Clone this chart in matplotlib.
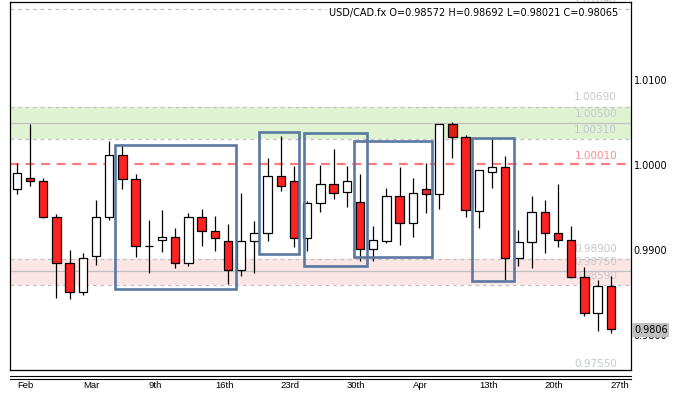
import matplotlib
matplotlib.use("Agg")
import matplotlib.pyplot as plt
from matplotlib.patches import Rectangle
from matplotlib.lines import Line2D
import matplotlib.transforms as mtransforms

# ---------------- data ----------------
opens = [0.99716, 0.99845, 0.99810, 0.99386, 0.98844, 0.98509, 0.98926, 0.99386, 1.00116, 0.99833,
         0.99044, 0.99115, 0.99150, 0.98844, 0.99386, 0.99221, 0.99103, 0.98765, 0.99103, 0.99197,
         0.99869, 0.99810, 0.99138, 0.99551, 0.99774, 0.99684, 0.99562, 0.99009, 0.99103, 0.99633,
         0.99315, 0.99716, 0.99657, 1.00481, 1.00328, 0.99460, 0.99916, 0.99975, 0.98910, 0.99091,
         0.99445, 0.99197, 0.99115, 0.98679, 0.98255, 0.98572]
highs = [1.00022, 1.00485, 0.99845, 0.99425, 0.99001, 0.98962, 0.99590, 1.00284, 1.00246, 0.99896,
         0.99354, 0.99472, 0.99260, 0.99436, 0.99484, 0.99401, 0.99307, 0.99676, 0.99339, 1.00081,
         1.00343, 0.99990, 0.99581, 1.00002, 1.00187, 0.99990, 0.99896, 0.99283, 0.99731, 0.99975,
         0.99845, 1.00022, 1.00490, 1.00512, 1.00355, 0.99945, 1.00308, 1.00108, 0.99236, 0.99637,
         0.99590, 0.99778, 0.99283, 0.98804, 0.98647, 0.98692]
lows = [0.99657, 0.99758, 0.99380, 0.98439, 0.98420, 0.98471, 0.98824, 0.99354, 0.99723, 0.98922,
        0.98726, 0.98981, 0.98792, 0.98816, 0.99051, 0.98992, 0.98600, 0.98694, 0.98733, 0.99110,
        0.99699, 0.99039, 0.98992, 0.99452, 0.99601, 0.99511, 0.98875, 0.98875, 0.99080, 0.99063,
        0.99157, 0.99433, 0.99487, 1.00081, 0.99393, 0.99263, 0.99727, 0.98647, 0.98816, 0.98792,
        0.98962, 0.99039, 0.98667, 0.98223, 0.98050, 0.98021]
closes = [0.99904, 0.99810, 0.99386, 0.98844, 0.98509, 0.98903, 0.99386, 1.00116, 0.99833, 0.99044,
          0.99044, 0.99150, 0.98844, 0.99386, 0.99221, 0.99138, 0.98762, 0.99103, 0.99204, 0.99869,
          0.99751, 0.99138, 0.99551, 0.99774, 0.99668, 0.99810, 0.99009, 0.99115, 0.99633, 0.99315,
          0.99668, 0.99657, 1.00481, 1.00328, 0.99472, 0.99939, 0.99975, 0.98910, 0.99091, 0.99445,
          0.99197, 0.99118, 0.98679, 0.98255, 0.98577, 0.98065]

x_labels = ["Feb", "Mar", "9th", "16th", "23rd", "30th", "Apr", "13th", "20th", "27th"]
x_label_idx = [0, 5, 10, 15, 20, 25, 30, 35, 40, 45]

y_ticks = [1.0100, 1.0000, 0.9900, 0.9800]
last_price = 0.9806

green_zone = [1.0031, 1.0050, 1.0069]
pink_zone = [0.9859, 0.9875, 0.9890]
red_level = 1.0001
top_level = 1.0184
bottom_level = 0.9755

# boxes: (start index, end index, low price, high price)
boxes = [(7.42, 16.6, 0.98545, 1.00241),
         (18.35, 21.38, 0.98953, 1.00390),
         (21.76, 26.53, 0.98809, 1.00379),
         (25.55, 31.45, 0.98918, 1.00284),
         (34.52, 37.67, 0.98635, 1.00320)]

title = "USD/CAD.fx O=0.98572 H=0.98692 L=0.98021 C=0.98065"

# ---------------- figure ----------------
W, H = 676, 395
fig = plt.figure(figsize=(W / 100, H / 100), dpi=100)
ax = fig.add_axes([10 / W, 25 / H, 621 / W, 368 / H])
ax.set_xlim(-0.515, 46.53)
ax.set_ylim(0.97587, 1.01922)

for s in ax.spines.values():
    s.set_linewidth(0.9)
    s.set_color("black")

ax.set_xticks([])
ax.yaxis.tick_right()
ax.set_yticks(y_ticks)
ax.set_yticklabels([f"{v:.4f}" for v in y_ticks])
ax.tick_params(axis="y", length=0, pad=2, labelsize=7, labelcolor="black")

gray = "#c0c0c0"
lblc = "#c4c8cc"

# zones
ax.axhspan(green_zone[0], green_zone[2], color="#dff3d2", zorder=0.5, lw=0)
ax.axhspan(pink_zone[0], pink_zone[2], color="#fbe5e5", zorder=0.5, lw=0)
for z in (green_zone, pink_zone):
    ax.axhline(z[0], color=gray, lw=0.9, ls=(0, (3, 3)), zorder=1)
    ax.axhline(z[2], color=gray, lw=0.9, ls=(0, (3, 3)), zorder=1)
    ax.axhline(z[1], color=gray, lw=0.9, zorder=1)
ax.axhline(top_level, color=gray, lw=0.9, ls=(0, (3, 3)), zorder=1)
ax.axhline(red_level, color="#ff7b7b", lw=1.6, ls=(0, (4, 3)), zorder=1)

trans_lbl = mtransforms.blended_transform_factory(ax.transAxes, ax.transData)
lx = (617 - 10) / 621
for v in green_zone + pink_zone + [top_level, bottom_level]:
    ax.annotate(f"{v:.5f}", xy=(lx, v), xycoords=trans_lbl, xytext=(0, 6.6),
                textcoords="offset points", ha="right", va="center",
                fontsize=7.5, color=lblc, zorder=1.5, annotation_clip=False)
ax.annotate(f"{red_level:.5f}", xy=(lx, red_level), xycoords=trans_lbl, xytext=(0, 6.3),
            textcoords="offset points", ha="right", va="center",
            fontsize=7.5, color="#ff8c8c", zorder=1.5)

# candles
bw = 0.64
for i, (o, h, l, c) in enumerate(zip(opens, highs, lows, closes)):
    ax.vlines(i, l, h, color="black", lw=0.9, zorder=3)
    if abs(c - o) < 1e-5:
        ax.hlines(o, i - bw / 2, i + bw / 2, color="black", lw=0.9, zorder=4)
        continue
    fc = "white" if c > o else ("#dd2210" if i == 33 else "#ff2222")
    ax.add_patch(Rectangle((i - bw / 2, min(o, c)), bw, abs(c - o),
                           facecolor=fc, edgecolor="black", lw=0.9, zorder=4))

# boxes
for x0, x1, y0, y1 in boxes:
    ax.add_patch(Rectangle((x0, y0), x1 - x0, y1 - y0, fill=False,
                           edgecolor="#5a78a0", lw=1.9, zorder=5))

# last price box
ax.text(1.0 + 3 / 621, last_price, f"{last_price:.4f}", transform=trans_lbl,
        ha="left", va="center", fontsize=7, color="black", clip_on=False, zorder=10,
        bbox=dict(boxstyle="square,pad=0.18", facecolor="#c0c0c0", edgecolor="none"))

# title
fig.text(618 / W, 1 - 13 / H, title, ha="right", va="center", fontsize=7.0,
         color="black", zorder=10,
         bbox=dict(boxstyle="square,pad=0.15", facecolor="white", edgecolor="none"))

# x-axis double lines and labels
for yy in (375.5, 378.5):
    fig.add_artist(Line2D([10 / W, 631 / W], [1 - yy / H, 1 - yy / H],
                          color="black", lw=0.8))
trans_x = mtransforms.blended_transform_factory(ax.transData, fig.transFigure)
for idx, lab in zip(x_label_idx, x_labels):
    ax.text(idx, 1 - 386 / H, lab, transform=trans_x, ha="left", va="center",
            fontsize=6.8, family="Liberation Sans", color="black", clip_on=False)

fig.savefig("out.png", dpi=100)
